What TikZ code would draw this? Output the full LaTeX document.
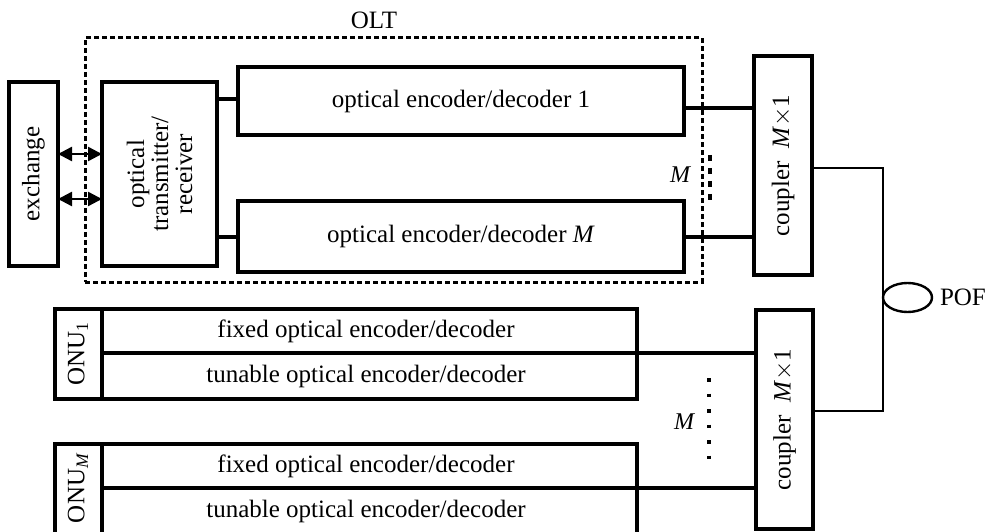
\documentclass[tikz,border=0pt]{standalone}
\usepackage{fontspec}
\setmainfont{Liberation Serif}
\usetikzlibrary{arrows.meta,shapes.geometric}
\begin{document}
\begin{tikzpicture}[x=1pt,y=-1pt,
  every node/.style={inner sep=0pt,outer sep=0pt},
  box/.style={draw,line width=3.4pt,rectangle},
  lbl/.style={font=\fontsize{25}{24}\selectfont},
  wire/.style={line width=3.4pt},
  thin/.style={line width=1.3pt},
  olt/.style={draw,line width=3pt,dash pattern=on 5pt off 3pt,rectangle},
  darr/.style={line width=2.4pt,{Triangle[length=14pt,width=14pt]}-{Triangle[length=14pt,width=14pt]}}
]
\useasboundingbox (0,0) rectangle (986,532);
\clip (0,0) rectangle (986,532);
% OLT dotted box
\node[olt,minimum width=617pt,minimum height=244pt] (olt) at (393.5,160) {};
\node[lbl] (oltl) at (374,20) {OLT};
% exchange and transmitter
\node[box,minimum width=49pt,minimum height=184pt] (exch) at (33.5,174) {};
\node[lbl,rotate=90] (exchl) at (exch.center) {exchange};
\node[box,minimum width=115pt,minimum height=184pt] (trx) at (159.5,174) {};
\node[lbl,rotate=90,align=center] (trxl) at (trx.center) {optical\\transmitter/\\receiver};
% encoders
\node[box,minimum width=446pt,minimum height=68pt] (enc1) at (461,101) {};
\node[lbl] (enc1l) at (enc1.center) {optical encoder/decoder 1};
\node[box,minimum width=446pt,minimum height=71pt] (encM) at (461,236.5) {};
\node[lbl] (encMl) at (encM.center) {optical encoder/decoder \textit{M}};
% couplers
\node[box,minimum width=58pt,minimum height=219pt] (cpl1) at (783,165.5) {};
\node[lbl,rotate=90] (cpl1l) at (cpl1.center) {coupler\ \ \textit{M}$\times$1};
\node[box,minimum width=57pt,minimum height=219pt] (cpl2) at (784.5,419.5) {};
\node[lbl,rotate=90] (cpl2l) at (cpl2.center) {coupler\ \ \textit{M}$\times$1};
% arrows
\coordinate (a1) at (58,154);
\coordinate (b1) at (102,154);
\coordinate (a2) at (58,199);
\coordinate (b2) at (102,199);
\draw[darr] (a1) -- (b1);
\draw[darr] (a2) -- (b2);
% trx to encoders
\draw[wire] (trx.east |- 0,99) -- (enc1.west |- 0,99);
\draw[wire] (trx.east |- 0,237) -- (encM.west |- 0,237);
% encoders to couplers
\draw[wire] (684,108) -- (cpl1.west |- 0,108);
\draw[wire] (682,237) -- (cpl1.west |- 0,237);
% M dots top
\node[font=\fontsize{24}{24}\selectfont\itshape] (m1) at (680,175) {M};
\coordinate (d1a) at (710,155);
\coordinate (d1b) at (710,207);
\draw[line width=4pt,dash pattern=on 6pt off 7pt] (d1a) -- (d1b);
% ONU boxes
\node[box,minimum width=582pt,minimum height=90pt] (onu1) at (346,354) {};
\coordinate (onu1d) at (102,353);
\draw[wire] (102,309) -- (102,399);
\draw[wire] (onu1d) -- (cpl2.west |- onu1d);
\node[lbl,rotate=90] (onu1l) at (78,354) {ONU\textsubscript{1}};
\node[lbl] (f1) at (366,331) {fixed optical encoder/decoder};
\node[lbl] (t1) at (366,376) {tunable optical encoder/decoder};
\node[box,minimum width=582pt,minimum height=100pt] (onuM) at (346,494) {};
\coordinate (onuMd) at (102,488);
\draw[wire] (102,444) -- (102,544);
\draw[wire] (onuMd) -- (cpl2.west |- onuMd);
\node[lbl,rotate=90] (onuMl) at (78,488) {ONU\textsubscript{\textit{M}}};
\node[lbl] (fM) at (366,466) {fixed optical encoder/decoder};
\node[lbl] (tM) at (366,511) {tunable optical encoder/decoder};
% M dots lower
\node[font=\fontsize{24}{24}\selectfont\itshape] (m2) at (684,422) {M};
\coordinate (d2a) at (709,378);
\coordinate (d2b) at (709,462);
\draw[line width=3.5pt,dash pattern=on 3.5pt off 12pt] (d2a) -- (d2b);
% POF
\coordinate (p1) at (883,168);
\coordinate (p2) at (883,411);
\draw[thin] (cpl1.east |- p1) -- (p1) -- (p2) -- (cpl2.east |- p2);
\node[draw,ellipse,line width=2.4pt,minimum width=49pt,minimum height=29pt] (pof) at (907.5,297.5) {};
\node[lbl,anchor=west] (pofl) at (940,297) {POF};
\end{tikzpicture}
\end{document}
